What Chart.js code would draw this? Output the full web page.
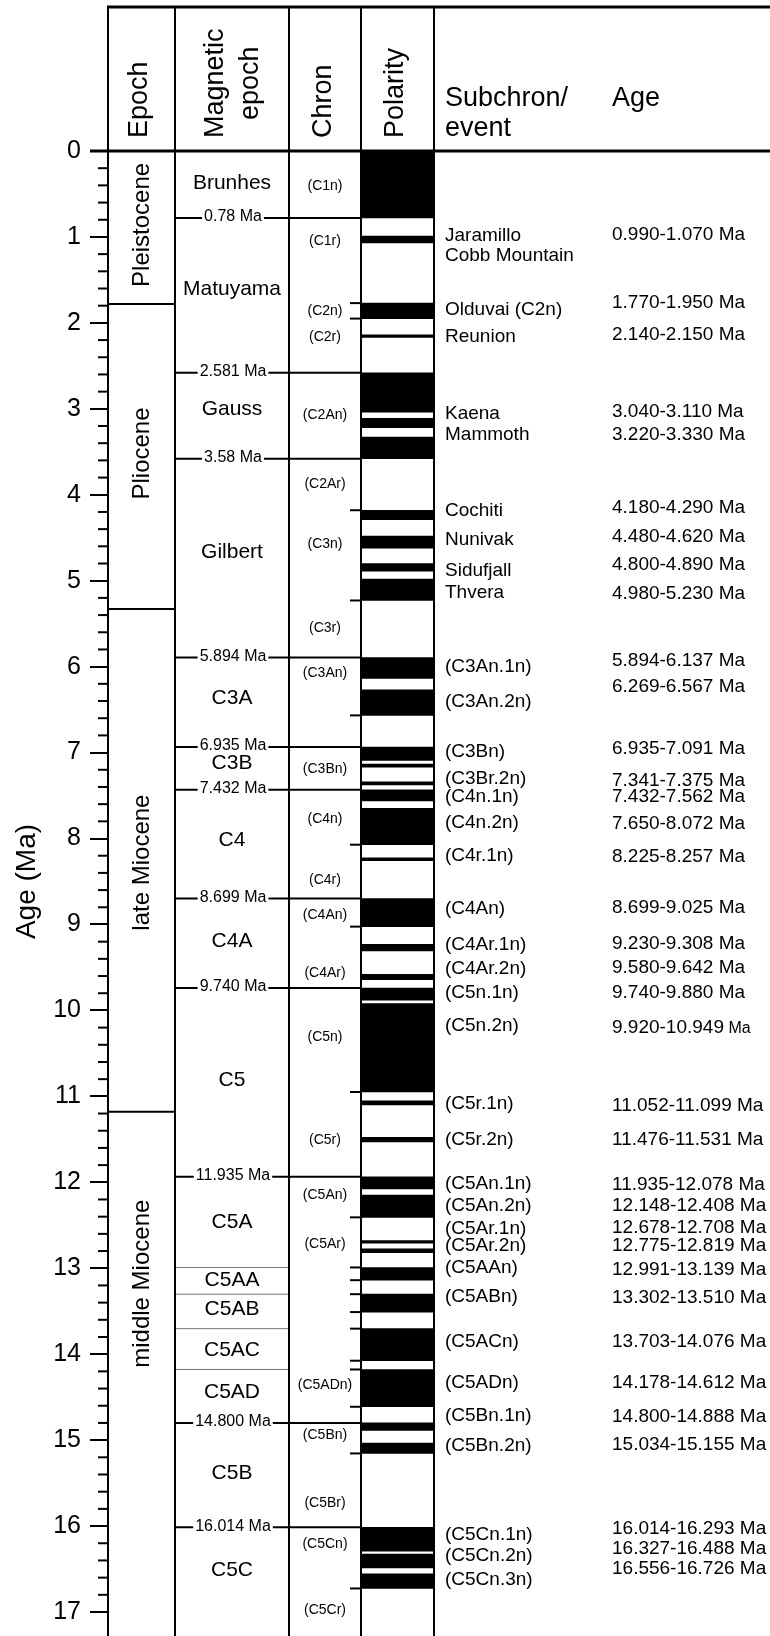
<!DOCTYPE html>
<html>
<head>
<meta charset="utf-8">
<title>Polarity time scale</title>
<script src="https://cdn.jsdelivr.net/npm/chart.js@4.4.1/dist/chart.umd.min.js"></script>
<style>
  html, body { margin: 0; padding: 0; background: #fff; }
  #wrap { width: 770px; height: 1636px; }
</style>
</head>
<body>
<div id="wrap"><canvas id="myChart" width="770" height="1636"></canvas></div>
<script>
// all ages in Ma
const ageTicks = [0, 1, 2, 3, 4, 5, 6, 7, 8, 9, 10, 11, 12, 13, 14, 15, 16, 17];

// normal polarity intervals (black)
const normalStart = [0.000, 0.990, 1.770, 2.140, 2.581, 3.110, 3.330, 4.180, 4.480, 4.800, 4.980,
  5.894, 6.269, 6.935, 7.135, 7.341, 7.432, 7.650, 8.225, 8.699, 9.230, 9.580, 9.740, 9.920,
  11.052, 11.476, 11.935, 12.148, 12.678, 12.775, 12.991, 13.302, 13.703, 14.178, 14.800, 15.034,
  16.014, 16.327, 16.556];
const normalEnd = [0.780, 1.070, 1.950, 2.150, 3.040, 3.220, 3.580, 4.290, 4.620, 4.890, 5.230,
  6.137, 6.567, 7.091, 7.170, 7.375, 7.562, 8.072, 8.257, 9.025, 9.308, 9.642, 9.880, 10.949,
  11.099, 11.531, 12.078, 12.408, 12.708, 12.819, 13.139, 13.510, 14.076, 14.612, 14.888, 15.155,
  16.293, 16.488, 16.726];

// epochs
const epochNames = ['Pleistocene', 'Pliocene', 'late Miocene', 'middle Miocene'];
const epochBounds = [1.78, 5.33, 11.18];
const epochLabelAge = [0.86, 3.52, 8.28, 13.18];

// magnetic epochs
const magEpochNames = ['Brunhes', 'Matuyama', 'Gauss', 'Gilbert', 'C3A', 'C3B', 'C4', 'C4A', 'C5',
  'C5A', 'C5AA', 'C5AB', 'C5AC', 'C5AD', 'C5B', 'C5C'];
const magEpochLabelAge = [0.37, 1.61, 3.0, 4.67, 6.37, 7.12, 8.02, 9.19, 10.81,
  12.47, 13.14, 13.48, 13.95, 14.44, 15.38, 16.51];
const magBounds = [0.78, 2.581, 3.58, 5.894, 6.935, 7.432, 8.699, 9.740, 11.935, 14.800, 16.014];
const magBoundLabels = ['0.78 Ma', '2.581 Ma', '3.58 Ma', '5.894 Ma', '6.935 Ma', '7.432 Ma',
  '8.699 Ma', '9.740 Ma', '11.935 Ma', '14.800 Ma', '16.014 Ma'];
const magMinorBounds = [12.991, 13.302, 13.703, 14.178];

// chrons
const chronNames = ['(C1n)', '(C1r)', '(C2n)', '(C2r)', '(C2An)', '(C2Ar)', '(C3n)', '(C3r)', '(C3An)',
  '(C3Bn)', '(C4n)', '(C4r)', '(C4An)', '(C4Ar)', '(C5n)', '(C5r)', '(C5An)', '(C5Ar)', '(C5ADn)',
  '(C5Bn)', '(C5Br)', '(C5Cn)', '(C5Cr)'];
const chronLabelAge = [0.41, 1.044, 1.86, 2.17, 3.075, 3.88, 4.57, 5.55, 6.08,
  7.19, 7.77, 8.48, 8.89, 9.57, 10.31, 11.51, 12.15, 12.72, 14.36,
  14.94, 15.73, 16.21, 16.98];
const chronTicks = [1.770, 1.950, 4.180, 5.230, 6.567, 8.072, 9.025, 10.949, 12.408, 12.991, 13.139,
  13.302, 13.510, 13.703, 14.076, 14.178, 14.612, 15.155, 16.726];

// subchrons / events
const eventNames = ['Jaramillo', 'Cobb Mountain', 'Olduvai (C2n)', 'Reunion', 'Kaena', 'Mammoth',
  'Cochiti', 'Nunivak', 'Sidufjall', 'Thvera', '(C3An.1n)', '(C3An.2n)', '(C3Bn)', '(C3Br.2n)',
  '(C4n.1n)', '(C4n.2n)', '(C4r.1n)', '(C4An)', '(C4Ar.1n)', '(C4Ar.2n)', '(C5n.1n)', '(C5n.2n)',
  '(C5r.1n)', '(C5r.2n)', '(C5An.1n)', '(C5An.2n)', '(C5Ar.1n)', '(C5Ar.2n)', '(C5AAn)', '(C5ABn)',
  '(C5ACn)', '(C5ADn)', '(C5Bn.1n)', '(C5Bn.2n)', '(C5Cn.1n)', '(C5Cn.2n)', '(C5Cn.3n)'];
const eventStart = [0.990, null, 1.770, 2.140, 3.040, 3.220, 4.180, 4.480, 4.800, 4.980,
  5.894, 6.269, 6.935, 7.341, 7.432, 7.650, 8.225, 8.699, 9.230, 9.580, 9.740, 9.920,
  11.052, 11.476, 11.935, 12.148, 12.678, 12.775, 12.991, 13.302, 13.703, 14.178, 14.800, 15.034,
  16.014, 16.327, 16.556];
const eventEnd = [1.070, null, 1.950, 2.150, 3.110, 3.330, 4.290, 4.620, 4.890, 5.230,
  6.137, 6.567, 7.091, 7.375, 7.562, 8.072, 8.257, 9.025, 9.308, 9.642, 9.880, 10.949,
  11.099, 11.531, 12.078, 12.408, 12.708, 12.819, 13.139, 13.510, 14.076, 14.612, 14.888, 15.155,
  16.293, 16.488, 16.726];
const eventNameAge = [0.99, 1.22, 1.85, 2.166, 3.06, 3.30, 4.19, 4.52, 4.885, 5.14,
  6.00, 6.41, 6.99, 7.31, 7.51, 7.82, 8.20, 8.82, 9.24, 9.52, 9.80, 10.18,
  11.09, 11.50, 12.02, 12.27, 12.54, 12.74, 13.00, 13.33, 13.86, 14.33, 14.72, 15.06,
  16.10, 16.35, 16.63];
const eventRangeAge = [0.975, null, 1.77, 2.14, 3.035, 3.30, 4.15, 4.49, 4.817, 5.15,
  5.93, 6.23, 6.95, 7.33, 7.51, 7.83, 8.21, 8.81, 9.22, 9.50, 9.79, 10.20,
  11.11, 11.50, 12.03, 12.27, 12.53, 12.74, 13.02, 13.34, 13.86, 14.33, 14.73, 15.05,
  16.03, 16.27, 16.50];

// layout (px)
const X0 = 108, X_EPOCH = 175, X_MAG = 289, X_CHRON = 361, X_POL = 434, X_SUB = 445, X_AGE = 612, X_RIGHT = 770;
const Y_TOP = 7;
const FONT = '"Liberation Sans", Arial, Helvetica, sans-serif';

function f(size){ return size + 'px ' + FONT; }

function line(ctx, x1, y1, x2, y2, w, color){
    ctx.beginPath();
    ctx.lineWidth = w;
    ctx.strokeStyle = color || '#000';
    ctx.moveTo(x1, y1);
    ctx.lineTo(x2, y2);
    ctx.stroke();
}

function text(ctx, s, x, y, size, align, base){
    ctx.font = f(size);
    ctx.textAlign = align || 'left';
    ctx.textBaseline = base || 'middle';
    ctx.fillStyle = '#000';
    ctx.fillText(s, x, y);
}

function rotText(ctx, s, x, y, size, align){
    ctx.save();
    ctx.translate(x, y);
    ctx.rotate(-Math.PI / 2);
    text(ctx, s, 0, 0, size, align, 'middle');
    ctx.restore();
}

const tablePlugin = {
    id: 'table',
    afterDatasetsDraw(chart){
        const ctx = chart.ctx;
        const ys = chart.scales.y;
        const py = v => ys.getPixelForValue(v);
        const bottom = chart.height;
        ctx.save();

        // minor ticks every 0.2 Ma
        for (let v = ageTicks[0]; v < ageTicks[ageTicks.length - 1]; v += 1) {
            for (let k = 1; k < 5; k++) {
                const yy = py(v + k * 0.2);
                line(ctx, X0 - 10, yy, X0, yy, 2);
            }
        }

        // epoch boundaries
        epochBounds.forEach(v => line(ctx, X0, py(v), X_EPOCH, py(v), 2));
        // thin magnetic epoch boundaries
        magMinorBounds.forEach(v => line(ctx, X_EPOCH, py(v), X_MAG, py(v), 1, '#777'));
        // chron ticks
        chronTicks.forEach(v => line(ctx, X_CHRON - 11, py(v), X_CHRON, py(v), 2));
        // magnetic epoch boundaries
        magBounds.forEach((v, i) => {
            const yy = py(v);
            line(ctx, X_EPOCH, yy, X_CHRON, yy, 2);
            ctx.font = f(16);
            const w = ctx.measureText(magBoundLabels[i]).width;
            ctx.fillStyle = '#fff';
            ctx.fillRect(233 - w / 2 - 2, yy - 8, w + 4, 14);
            text(ctx, magBoundLabels[i], 233, yy - 1, 16, 'center');
        });

        // columns and frame
        [X0, X_EPOCH, X_MAG, X_CHRON, X_POL].forEach(x => line(ctx, x, Y_TOP, x, bottom, 2));
        line(ctx, X0 - 1, Y_TOP, X_RIGHT, Y_TOP, 3);
        line(ctx, X0 - 18, py(0), X_RIGHT, py(0), 3);
        ctx.restore();
    },
    afterDraw(chart){
        const ctx = chart.ctx;
        const ys = chart.scales.y;
        const py = v => ys.getPixelForValue(v);
        ctx.save();

        // header
        rotText(ctx, 'Epoch', 140, 138, 27, 'left');
        ctx.font = f(27);
        const wMag = ctx.measureText('Magnetic').width;
        rotText(ctx, 'Magnetic', 216, 138, 27, 'left');
        rotText(ctx, 'epoch', 251, 138 - wMag / 2, 27, 'center');
        rotText(ctx, 'Chron', 324, 138, 27, 'left');
        rotText(ctx, 'Polarity', 396, 138, 27, 'left');
        text(ctx, 'Subchron/', X_SUB, 106, 27, 'left', 'alphabetic');
        text(ctx, 'event', X_SUB, 136, 27, 'left', 'alphabetic');
        text(ctx, 'Age', X_AGE, 106, 27, 'left', 'alphabetic');

        // epochs
        epochNames.forEach((s, i) => rotText(ctx, s, 142, py(epochLabelAge[i]), 24, 'center'));
        // magnetic epochs
        magEpochNames.forEach((s, i) => text(ctx, s, 232, py(magEpochLabelAge[i]), 21, 'center'));
        // chrons
        chronNames.forEach((s, i) => text(ctx, s, 325, py(chronLabelAge[i]), 14, 'center'));
        // subchrons / events and their ages
        eventNames.forEach((s, i) => {
            text(ctx, s, X_SUB, py(eventNameAge[i]), 19, 'left');
            if (eventStart[i] === null) return;
            const range = eventStart[i].toFixed(3) + '-' + eventEnd[i].toFixed(3);
            if (s === '(C5n.2n)') {
                text(ctx, range, X_AGE, py(eventRangeAge[i]), 19, 'left');
                ctx.font = f(19);
                const w = ctx.measureText(range).width;
                text(ctx, ' Ma', X_AGE + w, py(eventRangeAge[i]) + 1, 16, 'left');
            } else {
                text(ctx, range + ' Ma', X_AGE, py(eventRangeAge[i]), 19, 'left');
            }
        });
        ctx.restore();
    }
};

function getChart(){
    const ctx = document.getElementById('myChart');

    new Chart(ctx, {
        type: 'bar',
        data: {
            datasets: [{
                label: 'Normal polarity',
                data: normalStart.map((s, i) => ({ x: (X_CHRON + X_POL) / 2, y: [s, normalEnd[i]] })),
                backgroundColor: '#000',
                borderWidth: 0,
                barThickness: X_POL - X_CHRON,
                minBarLength: 2.5
            }]
        },
        options: {
            responsive: false,
            maintainAspectRatio: false,
            devicePixelRatio: 1,
            animation: false,
            layout: { padding: { top: 151, bottom: 14, left: 0, right: 0 } },
            plugins: {
                legend: { display: false },
                tooltip: { enabled: false }
            },
            scales: {
                x: {
                    type: 'linear',
                    min: X0,
                    max: X_RIGHT,
                    offset: false,
                    display: false
                },
                y: {
                    type: 'linear',
                    reverse: true,
                    min: ageTicks[0],
                    max: ageTicks[ageTicks.length - 1],
                    afterFit: (scale) => { scale.width = X0; },
                    ticks: {
                        stepSize: 1,
                        autoSkip: false,
                        padding: 9,
                        color: '#000',
                        font: { family: FONT, size: 25 }
                    },
                    grid: {
                        drawOnChartArea: false,
                        tickLength: 18,
                        lineWidth: 2,
                        color: '#000'
                    },
                    border: { display: true, color: '#000', width: 2 },
                    title: {
                        display: true,
                        text: 'Age (Ma)',
                        color: '#000',
                        font: { family: FONT, size: 28 },
                        padding: { top: 10, bottom: 0 }
                    }
                }
            }
        },
        plugins: [tablePlugin]
    });
}

document.addEventListener('DOMContentLoaded', (event) => {
    getChart();
});
</script>
</body>
</html>
